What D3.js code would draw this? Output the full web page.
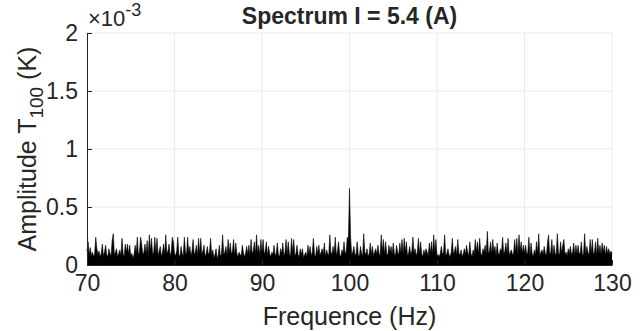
<!DOCTYPE html>
<html>
<head>
<meta charset="utf-8">
<script src="https://cdn.jsdelivr.net/npm/d3@7"></script>
<style>
  body { margin: 0; background: #fff; }
  text { font-family: "Liberation Sans", Arial, sans-serif; fill: #262626; }
</style>
</head>
<body>
<div id="chart"></div>
<script>
const amp70to80 = [12,20,9,15,8,11,7,10,24,14,9,12,7,10,18,8,11,17,9,7,14,10,8,21,27,9,11,14,7,10,13,8,23,10,7,18,11,18,9,17,8,10,6,9,17,10,24,8,12,24,18,9,11,18,10,21,8,26,12,23,9,11,24,10,23,8,12,16,7,11,18,9,26,10,12,18,8,11,24,20];
const amp80to90 = [10,8,12,24,9,7,16,10,8,24,11,9,24,10,16,8,12,22,9,11,17,8,23,10,23,9,12,17,7,10,16,9,11,23,8,13,6,9,14,5,9,17,7,10,26,9,11,16,8,22,10,19,9,12,22,8,19,10,7,11,9,8,17,11,7,10,16,9,17,8,22,10,12,20,9,26,10,17,8,22];
const amp90to100 = [11,22,9,12,20,8,16,10,7,11,9,17,8,10,19,9,7,14,10,19,8,11,22,9,20,10,7,23,11,22,8,10,17,9,7,14,9,14,6,9,11,7,17,10,16,8,11,23,9,7,16,10,17,8,11,14,9,19,7,13,10,8,26,11,9,16,10,24,8,12,20,9,7,13,10,20,9,12,24,22];
const amp100to110 = [66,24,9,11,16,8,10,20,9,7,16,10,8,27,11,9,14,7,10,19,9,16,8,11,14,9,17,10,8,26,11,22,9,20,10,8,17,11,16,9,19,10,8,17,11,9,19,10,22,9,23,11,20,8,10,16,9,12,24,10,14,8,11,23,9,20,10,7,13,9,14,11,8,19,10,20,9,26,11,22];
const amp110to120 = [8,9,7,10,16,9,11,26,8,10,14,9,7,11,23,9,12,16,8,22,10,9,13,7,10,14,9,17,11,8,20,10,7,13,9,22,11,20,9,23,10,8,14,11,17,9,29,10,12,20,9,22,11,16,8,19,10,9,14,11,24,9,12,19,10,23,8,11,13,9,10,22,11,23,9,26,12,20,10,17];
const amp120to130 = [10,17,9,11,24,8,19,10,7,13,9,20,10,27,8,11,13,9,16,10,8,19,26,9,11,22,8,17,10,9,27,11,8,20,10,17,22,9,11,8,14,10,16,9,11,19,8,17,10,17,9,11,20,8,10,27,9,16,11,8,22,10,22,9,11,20,8,23,10,17,9,19,11,17,8,16,10,14,9,12,10];

const freqStart = 70;
const freqStep = 0.125;
const amplitudes = [].concat(amp70to80, amp80to90, amp90to100, amp100to110, amp110to120, amp120to130);
const spectrum = amplitudes.map((a, i) => ({ f: freqStart + i * freqStep, a: a * 1e-5 }));

const xTicks = [70, 80, 90, 100, 110, 120, 130];
const yTicks = [0, 0.5e-3, 1e-3, 1.5e-3, 2e-3];

const width = 642, height = 331;
const margin = { top: 33, right: 30, bottom: 66, left: 87 };
const innerW = width - margin.left - margin.right;
const innerH = height - margin.top - margin.bottom;

const svg = d3.select('#chart')
  .append('svg')
  .attr('width', width)
  .attr('height', height);

const g = svg.append('g').attr('transform', `translate(${margin.left},${margin.top})`);

const x = d3.scaleLinear().domain([70, 130]).range([0, innerW]);
const y = d3.scaleLinear().domain([0, 2e-3]).range([innerH, 0]);

// Grid
g.append('g')
  .selectAll('line')
  .data(xTicks)
  .join('line')
  .attr('x1', d => x(d)).attr('x2', d => x(d))
  .attr('y1', 0).attr('y2', innerH)
  .attr('stroke', '#ebebeb').attr('stroke-width', 1);
g.append('g')
  .selectAll('line')
  .data(yTicks)
  .join('line')
  .attr('x1', 0).attr('x2', innerW)
  .attr('y1', d => y(d)).attr('y2', d => y(d))
  .attr('stroke', '#ebebeb').attr('stroke-width', 1);

// Spectrum
const area = d3.area()
  .x(d => x(d.f))
  .y0(innerH)
  .y1(d => y(d.a));
const line = d3.line()
  .x(d => x(d.f))
  .y(d => y(d.a));
g.append('path').datum(spectrum).attr('fill', '#000').attr('d', area);
g.append('path').datum(spectrum).attr('fill', 'none').attr('stroke', '#000').attr('stroke-width', 0.6).attr('d', line);

// Axes
const xAxis = d3.axisBottom(x).tickValues(xTicks).tickSizeInner(-5).tickSizeOuter(0).tickPadding(10);
const yAxis = d3.axisLeft(y).tickValues(yTicks).tickSizeInner(-5).tickSizeOuter(0).tickPadding(9)
  .tickFormat(d => d3.format('~g')(d * 1000));

const gx = g.append('g').attr('transform', `translate(0,${innerH})`).call(xAxis);
const gy = g.append('g').call(yAxis);
[gx, gy].forEach(a => {
  a.select('.domain').attr('stroke', '#262626');
  a.selectAll('.tick line').attr('stroke', '#262626');
  a.selectAll('.tick text').style('font-size', '23px').attr('fill', '#262626');
});

// Exponent
const expo = svg.append('text').attr('x', margin.left + 1).attr('y', 26).style('font-size', '22px');
expo.append('tspan').text('\u00d710');
expo.append('tspan').attr('dy', -10).style('font-size', '18px').text('-3');

// Title
svg.append('text')
  .attr('x', margin.left + innerW / 2).attr('y', 24)
  .attr('text-anchor', 'middle')
  .style('font-size', '23px').style('font-weight', 'bold')
  .attr('fill', '#000')
  .text('Spectrum I = 5.4 (A)');

// X label
svg.append('text')
  .attr('x', margin.left + innerW / 2).attr('y', 325)
  .attr('text-anchor', 'middle')
  .style('font-size', '25px')
  .text('Frequence (Hz)');

// Y label
const yl = svg.append('text')
  .attr('transform', `translate(36,${margin.top + innerH / 2}) rotate(-90)`)
  .attr('text-anchor', 'middle')
  .style('font-size', '25px');
yl.append('tspan').text('Amplitude T');
yl.append('tspan').attr('dy', 7).style('font-size', '19px').text('100');
yl.append('tspan').attr('dy', -7).text(' (K)');
</script>
</body>
</html>
